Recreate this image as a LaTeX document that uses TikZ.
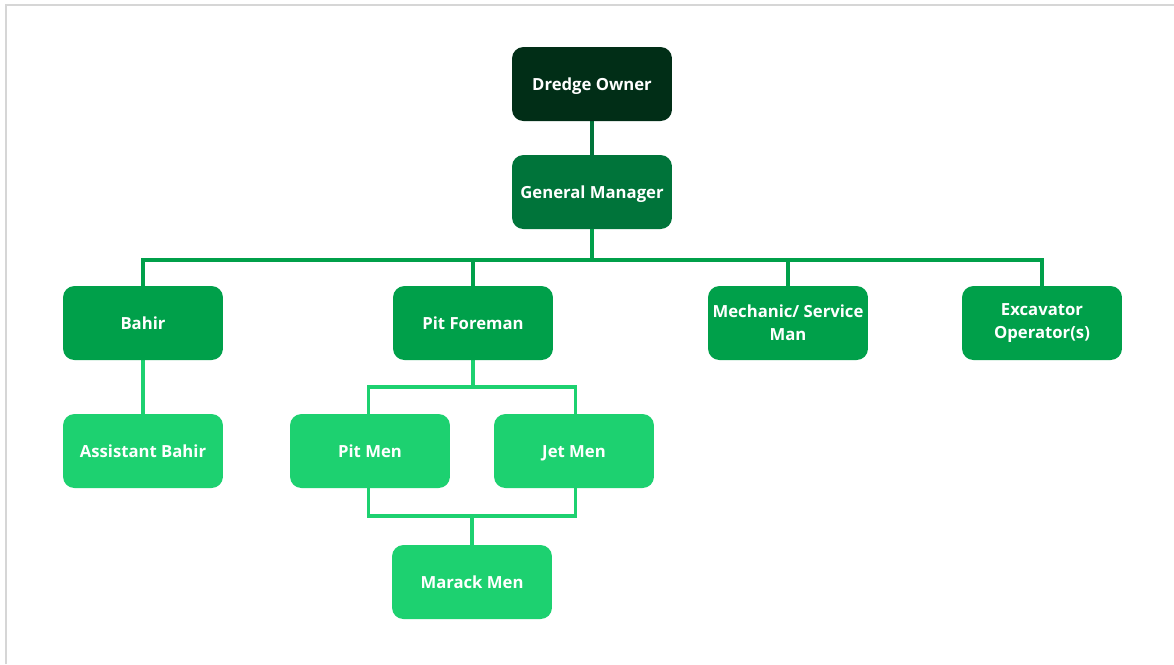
\documentclass[tikz,border=0pt]{standalone}
\usepackage{fontspec}
\setmainfont{Open Sans}
\usetikzlibrary{backgrounds}
\definecolor{ownergreen}{HTML}{012E17}
\definecolor{managergreen}{HTML}{00743A}
\definecolor{leadgreen}{HTML}{00A04A}
\definecolor{crewgreen}{HTML}{1DD170}
\definecolor{framegray}{HTML}{D6D6D6}
\tikzset{
  orgbox/.style={rectangle, rounded corners=6.5pt, minimum width=3.2cm, minimum height=1.48cm,
    text=white, align=center, font=\fontsize{9.5}{13}\selectfont\bfseries, inner sep=1pt},
  oneline/.style={orgbox, text height=0.8em, text depth=0.04em},
  link/.style={draw=crewgreen, line width=1.9pt}
}
\begin{document}
\begin{tikzpicture}[x=0.02cm, y=-0.02cm]
            \useasboundingbox (0,0) rectangle (1174,664);
            \draw[framegray, line width=1.2pt] (6,664) -- (6,5) -- (1174,5);

            \node[oneline, fill=ownergreen] (owner) at (592, 84) {Dredge Owner};
            \node[oneline, fill=managergreen] (manager) at (592, 192) {General Manager};
            \node[oneline, fill=leadgreen] (bahir) at (143, 323) {Bahir};
            \node[oneline, fill=leadgreen] (foreman) at (473, 323) {Pit Foreman};
            \node[orgbox, fill=leadgreen] (mechanic) at (788, 323) {Mechanic/ Service\\Man};
            \node[orgbox, fill=leadgreen] (excavator) at (1042, 323) {Excavator\\Operator(s)};
            \node[oneline, fill=crewgreen] (assistant) at (143, 451) {Assistant Bahir};
            \node[oneline, fill=crewgreen] (pitmen) at (370, 451) {Pit Men};
            \node[oneline, fill=crewgreen] (jetmen) at (574, 451) {Jet Men};
            \node[oneline, fill=crewgreen] (marack) at (472, 582) {Marack Men};

            \coordinate (topbus) at (592, 260);
            \coordinate (foremanbus) at (473, 387);
            \coordinate (crewbus) at (472, 516);

            % connectors behind the boxes
            \begin{scope}[on background layer]
            \draw[link, draw=managergreen] (owner) -- (manager);
            \draw[link, draw=leadgreen] (manager) -- (topbus);
            \draw[link, draw=leadgreen] (bahir) |- (topbus) -| (excavator);
            \draw[link, draw=leadgreen] (foreman) -- (foreman |- topbus);
            \draw[link, draw=leadgreen] (mechanic) -- (mechanic |- topbus);
            \draw[link] (bahir) -- (assistant);
            \draw[link] (foreman) -- (foremanbus);
            \draw[link] ([xshift=-1pt]pitmen.center) |- (foremanbus) -| ([xshift=1pt]jetmen.center);
            \draw[link] ([xshift=-1pt]pitmen.center) |- (crewbus) -| ([xshift=1pt]jetmen.center);
            \draw[link] (crewbus) -- (marack);
            \end{scope}
        \end{tikzpicture}
\end{document}
